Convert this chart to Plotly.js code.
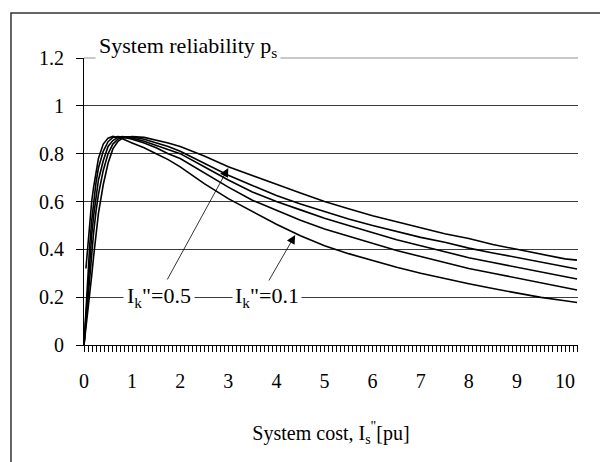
<!DOCTYPE html>
<html>
<head>
<meta charset="utf-8">
<script src="https://cdn.plot.ly/plotly-3.0.1.min.js"></script>
<style>html,body{margin:0;padding:0;background:#fff;}#chart{width:600px;height:462px;}</style>
</head>
<body>
<div id="chart"></div>
<script>
// System cost I_s'' [pu]
const cost = [0, 0.04, 0.08, 0.12, 0.16, 0.2, 0.25, 0.3, 0.4, 0.5, 0.6, 0.7, 0.8, 1.0, 1.25, 1.5, 1.75, 2.0, 2.5, 3, 3.5, 4, 4.5, 5, 5.5, 6, 6.5, 7, 7.5, 8, 8.5, 9, 9.5, 10, 10.25];
// System reliability p_s for each I_k''
const ps_k01 = [null, 0.32, 0.42, 0.52, 0.60, 0.66, 0.73, 0.78, 0.84, 0.865, 0.872, 0.868, 0.862, 0.845, 0.825, 0.80, 0.775, 0.745, 0.675, 0.612, 0.558, 0.505, 0.457, 0.415, 0.382, 0.352, 0.325, 0.30, 0.277, 0.256, 0.236, 0.216, 0.199, 0.185, 0.178];
const ps_k02 = [0, 0.15, 0.30, 0.42, 0.52, 0.60, 0.68, 0.74, 0.81, 0.85, 0.868, 0.872, 0.87, 0.86, 0.845, 0.825, 0.80, 0.78, 0.72, 0.66, 0.605, 0.563, 0.522, 0.485, 0.455, 0.425, 0.395, 0.37, 0.345, 0.32, 0.30, 0.28, 0.26, 0.24, 0.23];
const ps_k03 = [0, 0.12, 0.25, 0.36, 0.46, 0.54, 0.62, 0.69, 0.77, 0.83, 0.855, 0.868, 0.872, 0.865, 0.852, 0.835, 0.815, 0.80, 0.745, 0.69, 0.64, 0.60, 0.565, 0.53, 0.50, 0.47, 0.44, 0.415, 0.39, 0.365, 0.345, 0.325, 0.305, 0.285, 0.276];
const ps_k04 = [0, 0.10, 0.20, 0.30, 0.39, 0.47, 0.56, 0.63, 0.73, 0.80, 0.84, 0.86, 0.87, 0.87, 0.86, 0.845, 0.83, 0.81, 0.76, 0.71, 0.667, 0.625, 0.59, 0.557, 0.527, 0.50, 0.475, 0.45, 0.43, 0.405, 0.385, 0.365, 0.345, 0.325, 0.318];
const ps_k05 = [0, 0.07, 0.14, 0.20, 0.29, 0.37, 0.47, 0.55, 0.67, 0.76, 0.82, 0.85, 0.865, 0.872, 0.868, 0.858, 0.845, 0.83, 0.79, 0.745, 0.707, 0.672, 0.636, 0.60, 0.57, 0.54, 0.515, 0.49, 0.465, 0.445, 0.42, 0.40, 0.38, 0.36, 0.355];
const seriesList = [ps_k01, ps_k02, ps_k03, ps_k04, ps_k05];
const seriesNames = ['I<sub>k</sub>"=0.1', 'I<sub>k</sub>"=0.2', 'I<sub>k</sub>"=0.3', 'I<sub>k</sub>"=0.4', 'I<sub>k</sub>"=0.5'];
const yTicks = [0, 0.2, 0.4, 0.6, 0.8, 1, 1.2];
const yTickText = ['0', '0.2', '0.4', '0.6', '0.8', '1', '1.2'];
const xTicks = [0, 1, 2, 3, 4, 5, 6, 7, 8, 9, 10];

const FONT = '"Liberation Serif", "Times New Roman", serif';

const traces = seriesList.map((ys, i) => ({
  x: cost, y: ys, type: 'scatter', mode: 'lines', name: seriesNames[i],
  line: {color: '#000', width: 1.6}, hoverinfo: 'skip', showlegend: false
}));

const layout = {
  width: 600, height: 462,
  margin: {l: 84, r: 22, t: 58, b: 117},
  paper_bgcolor: '#fff', plot_bgcolor: '#fff',
  font: {family: FONT, size: 20, color: '#000'},
  showlegend: false,
  xaxis: {
    range: [0, 10.27], tickvals: xTicks, ticktext: xTicks.map(String),
    ticks: 'outside', ticklen: 6, tickwidth: 1, tickcolor: '#000',
    ticklabelstandoff: 12,
    minor: {dtick: 1/12, tick0: 0, ticks: 'outside', ticklen: 6, tickwidth: 1, tickcolor: '#000', showgrid: false},
    showline: true, linecolor: '#000', linewidth: 1,
    showgrid: false, zeroline: false,
    tickfont: {family: FONT, size: 20},
    title: {text: 'System cost, I<sub>s</sub><sup>"</sup>[pu]', font: {family: FONT, size: 20}, standoff: 34},
    fixedrange: true
  },
  yaxis: {
    range: [0, 1.2], tickvals: yTicks, ticktext: yTickText,
    ticks: 'outside', ticklen: 7, tickwidth: 1, tickcolor: '#000',
    ticklabelstandoff: 8,
    showline: true, linecolor: '#000', linewidth: 1,
    showgrid: true, gridcolor: '#3a3a3a', gridwidth: 1, zeroline: false,
    tickfont: {family: FONT, size: 20},
    fixedrange: true
  },
  shapes: [
    {type: 'line', xref: 'paper', yref: 'paper', x0: 0, x1: 1, y0: 1, y1: 1, line: {color: '#c8c8c8', width: 2}, layer: 'above'},
    {type: 'rect', xref: 'paper', yref: 'paper', x0: -0.1478, x1: 1.1, y0: -0.5, y1: 1.1568, line: {color: '#333', width: 1.5}, layer: 'above'}
  ],
  annotations: [
    {xref: 'paper', yref: 'paper', x: 0.022, y: 1.04, xanchor: 'left', yanchor: 'middle', showarrow: false,
     text: 'System reliability p<sub>s</sub>', font: {family: FONT, size: 22}, bgcolor: '#fff', borderpad: 3},
    {x: 3.0, y: 0.74, ax: -64, ay: 117, text: '', showarrow: true, arrowhead: 2, arrowsize: 2.2, arrowwidth: 0.8, arrowcolor: '#000'},
    {x: 4.39, y: 0.46, ax: -30, ay: 52, text: '', showarrow: true, arrowhead: 2, arrowsize: 2.2, arrowwidth: 0.8, arrowcolor: '#000'},
    {x: 1.56, y: 0.2, xanchor: 'center', yanchor: 'middle', showarrow: false, text: seriesNames[4],
     font: {family: FONT, size: 22}, bgcolor: '#fff', borderpad: 3},
    {x: 3.81, y: 0.2, xanchor: 'center', yanchor: 'middle', showarrow: false, text: seriesNames[0],
     font: {family: FONT, size: 22}, bgcolor: '#fff', borderpad: 2}
  ]
};

Plotly.newPlot('chart', traces, layout, {staticPlot: true, displayModeBar: false});
</script>
</body>
</html>
